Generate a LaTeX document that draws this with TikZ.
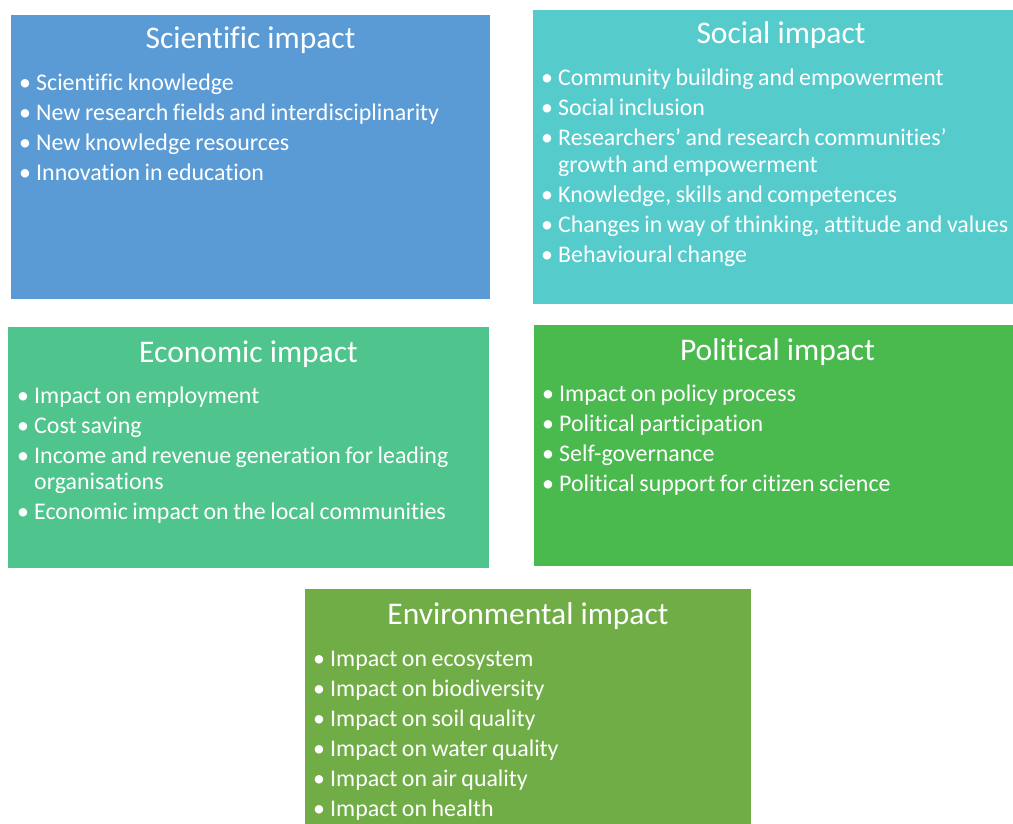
\documentclass[tikz,border=0pt]{standalone}
\usepackage{fontspec}
\setmainfont{Carlito}[Ligatures=NoCommon]
\usetikzlibrary{positioning}

\definecolor{sciblue}{HTML}{5B9BD5}
\definecolor{socteal}{HTML}{56CBCC}
\definecolor{ecogreen}{HTML}{4FC58D}
\definecolor{polgreen}{HTML}{4ABA4F}
\definecolor{envgreen}{HTML}{70AD47}

% one bulleted entry, wrapped lines hang under the text, no hyphenation
\newcommand{\itm}[1]{\hyphenpenalty=10000\spaceskip=0.19em plus 0.05em\relax
  \hangindent=17pt\hangafter=1\makebox[17pt][l]{\textbullet}#1\par\vspace{3.5pt}}

\begin{document}
\begin{tikzpicture}[x=1pt,y=-1pt,
  box/.style={anchor=north west,inner sep=0pt,outer sep=0pt},
  ttl/.style={anchor=base,text=white,font=\fontsize{31.5}{36}\selectfont},
  lst/.style={anchor=base west,inner sep=0pt,text=white,text width=465pt,align=left,
    font=\fontsize{23.9}{26.5}\selectfont}]
\useasboundingbox (0,0) rectangle (1013,824);
% --- the five panels ---
\node[box,fill=sciblue,minimum width=479pt,minimum height=284pt] (sci) at (11,15) {};
\node[box,fill=socteal,minimum width=480pt,minimum height=294pt] (soc) at (533,10) {};
\node[box,fill=ecogreen,minimum width=481pt,minimum height=241pt] (eco) at (8,327) {};
\node[box,fill=polgreen,minimum width=479pt,minimum height=241pt] (pol) at (534,325) {};
\node[box,fill=envgreen,minimum width=446pt,minimum height=235pt] (env) at (305,589) {};
% --- headings ---
\node[ttl] (scit) at ([yshift=-34pt]sci.north) {Scientific impact};
\node[ttl] (soct) at ([xshift=8pt,yshift=-34pt]soc.north) {Social impact};
\node[ttl] (ecot) at ([yshift=-35pt]eco.north) {Economic impact};
\node[ttl] (polt) at ([xshift=4pt,yshift=-35pt]pol.north) {Political impact};
\node[ttl] (envt) at ([yshift=-35pt]env.north) {Environmental impact};
% --- bullet lists ---
\node[lst] (scil) at ([xshift=8pt,yshift=-76pt]sci.north west) {%
  \itm{Scientific knowledge}
  \itm{New research fields and interdisciplinarity}
  \itm{New knowledge resources}
  \itm{Innovation in education}};
\node[lst,text width=490pt] (socl) at ([xshift=8pt,yshift=-76pt]soc.north west) {%
  \itm{Community building and empowerment}
  \itm{Social inclusion}
  \itm{Researchers’ and research communities’\newline growth and empowerment}
  \itm{Knowledge, skills and competences}
  \itm{Changes in way of thinking, attitude and values}
  \itm{Behavioural change}};
\node[lst] (ecol) at ([xshift=9pt,yshift=-76pt]eco.north west) {%
  \itm{Impact on employment}
  \itm{Cost saving}
  \itm{Income and revenue generation for leading\newline organisations}
  \itm{Economic impact on the local communities}};
\node[lst] (poll) at ([xshift=8pt,yshift=-76pt]pol.north west) {%
  \itm{Impact on policy process}
  \itm{Political participation}
  \itm{Self-governance}
  \itm{Political support for citizen science}};
\node[lst,text width=430pt] (envl) at ([xshift=8pt,yshift=-77pt]env.north west) {%
  \itm{Impact on ecosystem}
  \itm{Impact on biodiversity}
  \itm{Impact on soil quality}
  \itm{Impact on water quality}
  \itm{Impact on air quality}
  \itm{Impact on health}};
\end{tikzpicture}
\end{document}
